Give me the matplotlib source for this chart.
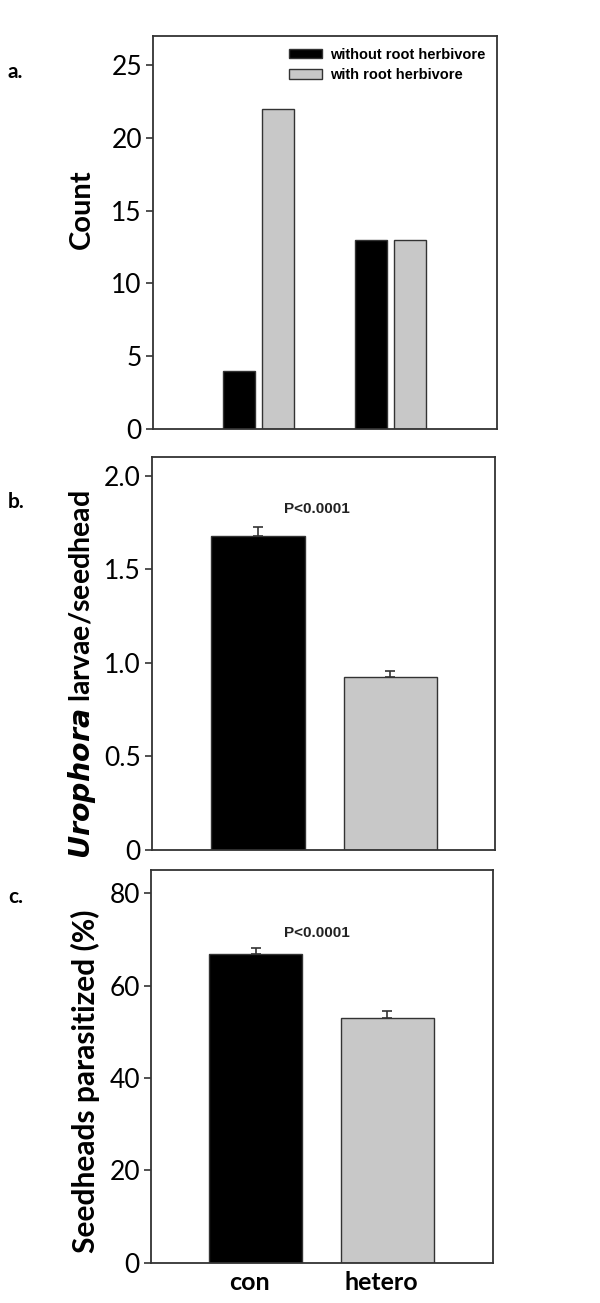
import matplotlib
matplotlib.use("Agg")
import matplotlib.pyplot as plt
import matplotlib.transforms as mtransforms
import numpy as np

# panel a: counts
groups = [1, 2]
count_without = [4, 13]
count_with = [22, 13]
legend_labels = ["without root herbivore", "with root herbivore"]

# panels b and c
treatments = ["con", "hetero"]
larvae_mean = [1.68, 0.923]
larvae_se = [0.045, 0.033]
parasit_mean = [66.8, 53.0]
parasit_se = [1.3, 1.5]
p_text = "P<0.0001"

black = "#000000"
grey = "#c8c8c8"
edge = "#333333"
plt.rcParams["font.family"] = ["Lato", "DejaVu Sans"]
plt.rcParams["mathtext.fontset"] = "custom"

fig = plt.figure(figsize=(6, 13.03), dpi=100)
ax_a = fig.add_axes([0.255, 0.6708, 0.573, 0.3016])
ax_b = fig.add_axes([0.2533, 0.3477, 0.5717, 0.3016])
ax_c = fig.add_axes([0.2517, 0.0309, 0.570, 0.3014])


def style_axes(ax):
    for s in ax.spines.values():
        s.set_color(edge)
        s.set_linewidth(1.3)
    ax.tick_params(axis="y", direction="out", length=5, width=1.2, color=edge,
                   labelsize=19, pad=3)
    ax.tick_params(axis="x", length=0)


# a.
x = np.array(groups)
ax_a.bar(x - 0.148, count_without, width=0.242, color=black, edgecolor=edge,
         linewidth=1, label=legend_labels[0])
ax_a.bar(x + 0.148, count_with, width=0.242, color=grey, edgecolor=edge,
         linewidth=1, label=legend_labels[1])
ax_a.set_xlim(0.2, 2.807)
ax_a.set_ylim(0, 27)
ax_a.set_yticks([0, 5, 10, 15, 20, 25])
ax_a.set_xticks([])
ax_a.set_ylabel("Count", fontsize=21, fontweight="bold", fontstyle="normal", va="center")
ax_a.yaxis.set_label_coords(-0.206, 0.559)
ax_a.legend(loc="upper right", frameon=False, handlelength=2.3, handleheight=0.65,
            handletextpad=0.5, labelspacing=0.45, borderaxespad=0.3, borderpad=0.5,
            prop={"family": "Liberation Sans", "weight": "bold", "size": 10.5})
style_axes(ax_a)

# b.
xb = np.arange(1, len(treatments) + 1)
ax_b.bar(xb, larvae_mean, width=0.71, color=[black, grey], edgecolor=edge, linewidth=1,
         yerr=[[0, 0], larvae_se], capsize=3.5,
         error_kw={"ecolor": edge, "elinewidth": 1.2, "capthick": 1.2})
ax_b.set_xlim(0.197, 2.79)
ax_b.set_ylim(0, 2.1)
ax_b.set_yticks([0, 0.5, 1.0, 1.5, 2.0])
ax_b.set_yticklabels(["0", "0.5", "1.0", "1.5", "2.0"])
ax_b.set_xticks([])
ax_b.set_ylabel(r"$\mathbfit{Urophora}$ larvae/seedhead", fontsize=20.5,
                fontweight="bold", fontstyle="normal", va="center")
ax_b.yaxis.set_label_coords(-0.204, 0.446)
ax_b.text(1.447, 1.824, p_text, ha="center", va="center", fontsize=11,
          fontweight="bold", family="Liberation Sans", color="#222222")
style_axes(ax_b)

# c.
ax_c.bar(xb, parasit_mean, width=0.71, color=[black, grey], edgecolor=edge, linewidth=1,
         yerr=[[0, 0], parasit_se], capsize=3.5,
         error_kw={"ecolor": edge, "elinewidth": 1.2, "capthick": 1.2})
ax_c.set_xlim(0.208, 2.80)
ax_c.set_ylim(0, 85)
ax_c.set_yticks([0, 20, 40, 60, 80])
ax_c.set_xticks(xb)
ax_c.set_xticklabels(treatments, fontsize=18, fontweight="bold")
ax_c.set_ylabel("Seedheads parasitized (%)", fontsize=21.5, fontweight="bold",
                fontstyle="normal", va="center")
ax_c.yaxis.set_label_coords(-0.193, 0.462)
ax_c.text(1.466, 71.4, p_text, ha="center", va="center", fontsize=11,
          fontweight="bold", family="Liberation Sans", color="#222222")
style_axes(ax_c)
ax_c.tick_params(axis="x", pad=6)
shift = mtransforms.ScaledTranslation(-6 / 100, 0, fig.dpi_scale_trans)
for lbl in ax_c.get_xticklabels():
    lbl.set_transform(lbl.get_transform() + shift)

# panel letters
for label, y in [("a.", 1 - 72 / 1303), ("b.", 1 - 502 / 1303), ("c.", 1 - 897 / 1303)]:
    fig.text(8 / 600, y, label, fontsize=15, fontweight="bold", va="center", ha="left")

fig.savefig("out.png", dpi=100, facecolor="white")
plt.close(fig)
